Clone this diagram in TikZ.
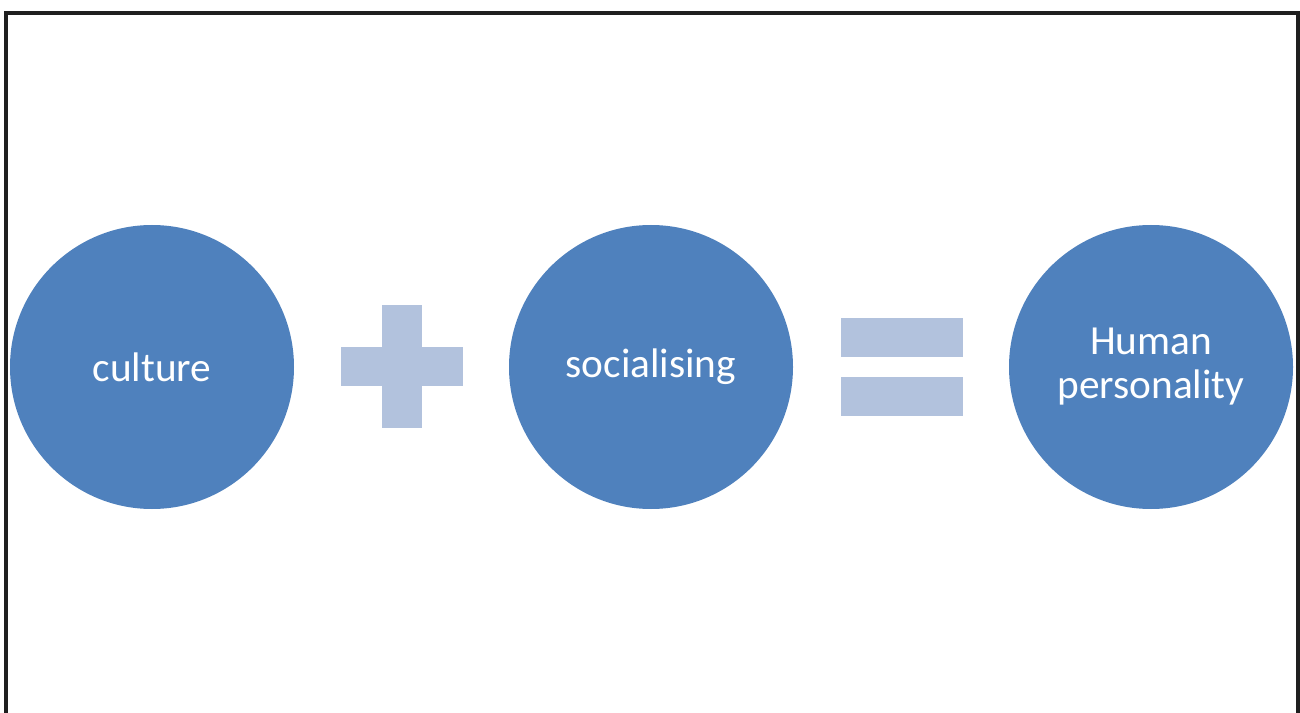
\documentclass[tikz,border=0pt]{standalone}
\usepackage{fontspec}
\setmainfont{Carlito}
\definecolor{circ}{HTML}{4F81BD}
\definecolor{sym}{HTML}{B2C2DD}
\begin{document}
\begin{tikzpicture}[x=0.75pt,y=-0.75pt,
  bubble/.style={circle,fill=circ,draw=none,minimum size=213pt,inner sep=0pt,text=white,
    font=\fontsize{31}{33}\selectfont,align=center},
  symbar/.style={fill=sym,draw=none}]
\useasboundingbox (0,0) rectangle (1300,713);
\fill[white] (0,0) rectangle (1300,713);
\draw[line width=2.3pt,color=black!88] (6,720) -- (6,13) -- (1298,13) -- (1298,720);
\node[bubble] (culture) at (152,367) {culture};
\node[bubble] (social) at (651,367) {socialising};
\node[bubble] (human) at (1151,367) {Human\\personality};
% plus
\fill[symbar] (382,305) rectangle (422,428);
\fill[symbar] (341,347) rectangle (463,386);
% equals
\fill[symbar] (841,318) rectangle (963,357);
\fill[symbar] (841,377) rectangle (963,416);
\end{tikzpicture}
\end{document}
